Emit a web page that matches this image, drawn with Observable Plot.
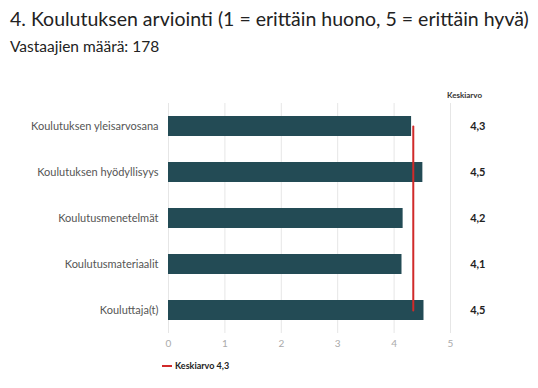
<!DOCTYPE html>
<html>
<head>
<meta charset="utf-8">
<script src="https://cdn.jsdelivr.net/npm/d3@7"></script>
<script src="https://cdn.jsdelivr.net/npm/@observablehq/plot@0.6"></script>
<style>
  html, body { margin: 0; padding: 0; background: #fff; }
  body { width: 538px; height: 388px; overflow: hidden; font-family: Lato, "Open Sans", sans-serif; position: relative; }
  #title { position: absolute; left: 10px; top: 9.4px; font-size: 19.5px; line-height: 1; color: #222; white-space: nowrap; }
  #subtitle { position: absolute; left: 10px; top: 38.5px; font-size: 15.5px; line-height: 1; color: #222; white-space: nowrap; }
  #chart { position: absolute; left: 0; top: 60px; }
  #legend { position: absolute; left: 162px; top: 360px; font-size: 9px; font-weight: bold; color: #222; display: flex; align-items: center; }
  #legend .sw { width: 10px; height: 2px; background: #d12a2a; margin-right: 3px; }
</style>
</head>
<body>
<div id="title">4. Koulutuksen arviointi (1 = erittäin huono, 5 = erittäin hyvä)</div>
<div id="subtitle">Vastaajien määrä: 178</div>
<div id="chart"></div>
<div id="legend"><span class="sw"></span><span id="legendText"></span></div>
<script>
const categories = [
  "Koulutuksen yleisarvosana",
  "Koulutuksen hyödyllisyys",
  "Koulutusmenetelmät",
  "Koulutusmateriaalit",
  "Kouluttaja(t)"
];
const values = [4.31, 4.51, 4.16, 4.14, 4.53];
const overallMean = 4.34;
const xTicks = [0, 1, 2, 3, 4, 5];
const columnHeader = "Keskiarvo";
const legendLabel = "Keskiarvo";

const fmt = v => d3.format(".1f")(v).replace(".", ",");
const data = categories.map((c, i) => ({category: c, value: values[i]}));
const meanLine = [categories[0], categories[categories.length - 1]].map(c => ({category: c, value: overallMean}));

const chart = Plot.plot({
  width: 538,
  height: 290,
  marginLeft: 168,
  marginRight: 88,
  marginTop: 43,
  marginBottom: 17,
  style: {fontFamily: "Lato, 'Open Sans', sans-serif", background: "#fff"},
  x: {domain: [0, 5], ticks: xTicks, tickSize: 0, tickPadding: 6, label: null, tickFormat: d => d},
  y: {domain: categories, padding: 0.565, paddingOuter: 0.2825, label: null, tickSize: 0, tickPadding: 10},
  marks: [
    Plot.gridX(xTicks, {stroke: "#e6e6e6", strokeOpacity: 1, strokeWidth: 1}),
    Plot.barX(data, {x: "value", y: "category", fill: "#234b55"}),
    Plot.line(meanLine, {x: "value", y: "category", stroke: "#d12a2a", strokeWidth: 2}),
    Plot.axisX({ticks: xTicks, tickSize: 0, tickPadding: 6, color: "#aaa", fontSize: 10, label: null, tickFormat: d => d}),
    Plot.axisY({tickSize: 0, tickPadding: 10, color: "#555", fontSize: 11, label: null}),
    Plot.text(data, {y: "category", text: d => fmt(d.value), frameAnchor: "right", textAnchor: "end", dx: 35, fontWeight: "bold", fontSize: 11, fill: "#222"}),
    Plot.text([columnHeader], {text: d => d, frameAnchor: "top-right", textAnchor: "middle", dx: 14, dy: -11, fontWeight: "bold", fontSize: 8, fill: "#333"})
  ]
});
document.getElementById("chart").appendChild(chart);
document.getElementById("legendText").textContent = legendLabel + " " + fmt(overallMean);
</script>
</body>
</html>
